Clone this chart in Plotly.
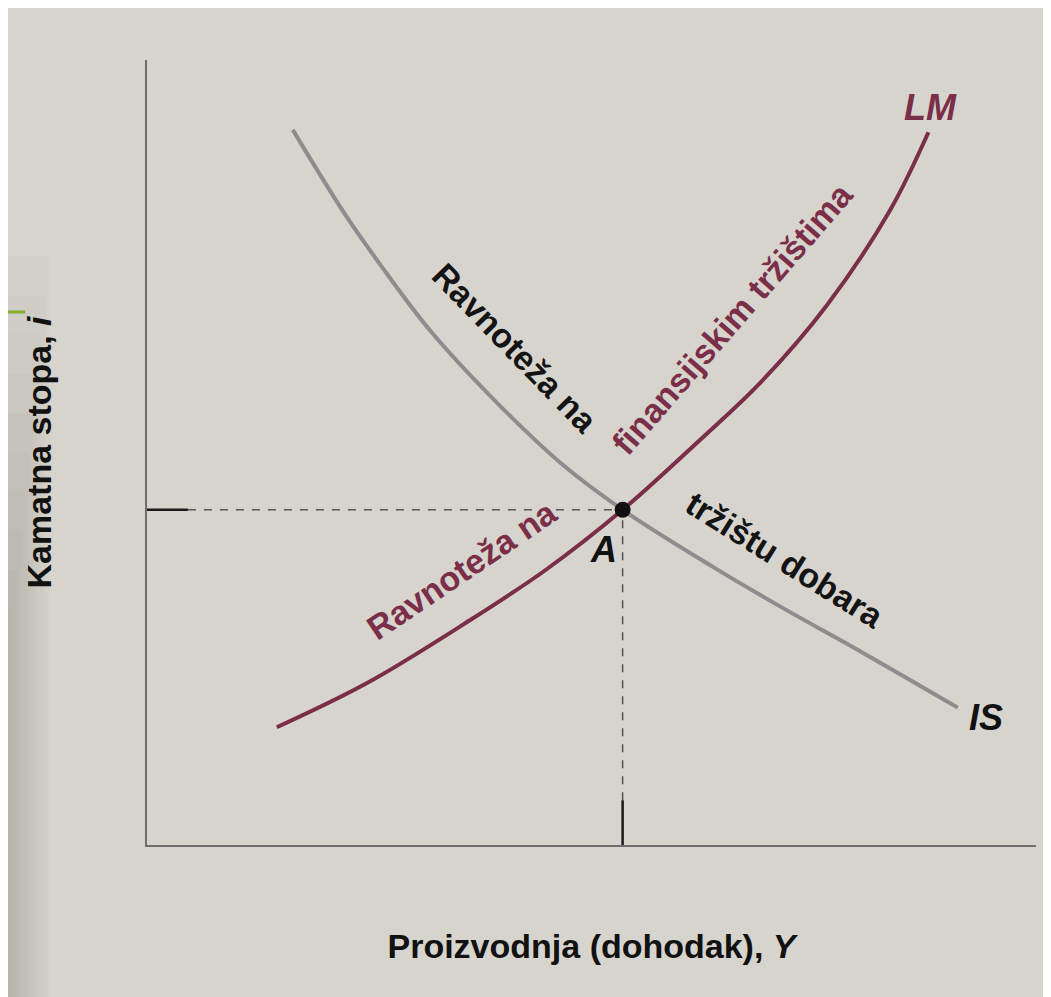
import plotly.graph_objects as go

# IS curve (goods market equilibrium)
is_x = [16.4, 22.3, 26.2, 31.8, 39.4, 46.8, 53.5, 63.7, 71.2, 80.5, 91.2]
is_y = [91.1, 80.3, 74.0, 65.6, 56.3, 48.4, 42.7, 35.4, 30.4, 24.5, 17.5]

# LM curve (financial markets equilibrium)
lm_x = [14.6, 24.7, 36.0, 44.8, 53.5, 62.2, 69.0, 76.5, 83.6, 87.9]
lm_y = [15.0, 20.6, 28.4, 35.0, 42.7, 51.6, 58.9, 68.8, 80.9, 90.8]

# equilibrium point A
eq_x = 53.5
eq_y = 42.7

# solid tick stubs on the axes
tick_i_len = 4.6
tick_y_len = 5.7

bg = "#d7d4ce"
maroon = "#7a2e48"
gray_curve = "#8d8d8d"
font_family = "Liberation Sans, Arial, Helvetica, sans-serif"

fig = go.Figure()

# dashed guide lines from A to the axes
fig.add_trace(go.Scatter(
    x=[tick_i_len, eq_x], y=[eq_y, eq_y], mode="lines",
    line=dict(color="#555555", width=1.5, dash="8px,8px"),
    showlegend=False, hoverinfo="skip",
))
fig.add_trace(go.Scatter(
    x=[eq_x, eq_x], y=[tick_y_len, eq_y], mode="lines",
    line=dict(color="#555555", width=1.5, dash="8px,8px"),
    showlegend=False, hoverinfo="skip",
))
fig.add_trace(go.Scatter(
    x=[0, tick_i_len], y=[eq_y, eq_y], mode="lines",
    line=dict(color="#1a1a1a", width=2.5),
    showlegend=False, hoverinfo="skip",
))
fig.add_trace(go.Scatter(
    x=[eq_x, eq_x], y=[0, tick_y_len], mode="lines",
    line=dict(color="#1a1a1a", width=2.5),
    showlegend=False, hoverinfo="skip",
))

fig.add_trace(go.Scatter(
    x=is_x, y=is_y, mode="lines", line_shape="spline",
    line=dict(color=gray_curve, width=4), name="IS", showlegend=False,
))
fig.add_trace(go.Scatter(
    x=lm_x, y=lm_y, mode="lines", line_shape="spline",
    line=dict(color=maroon, width=4), name="LM", showlegend=False,
))
fig.add_trace(go.Scatter(
    x=[eq_x], y=[eq_y], mode="markers",
    marker=dict(color="#111111", size=16), showlegend=False,
))

txt = 34
annotations = [
    dict(x=41.4, y=63.3, text="<b>Ravnoteža na</b>", textangle=46,
         font=dict(color="#141414", size=txt)),
    dict(x=65.9, y=67.1, text="<b>finansijskim tržištima</b>", textangle=-49,
         font=dict(color=maroon, size=txt)),
    dict(x=35.4, y=35.0, text="<b>Ravnoteža na</b>", textangle=-34,
         font=dict(color=maroon, size=txt)),
    dict(x=71.8, y=36.3, text="<b>tržištu dobara</b>", textangle=32,
         font=dict(color="#141414", size=txt)),
    dict(x=51.3, y=37.6, text="<b><i>A</i></b>",
         font=dict(color="#111111", size=36)),
    dict(x=88.1, y=94.0, text="<b><i>LM</i></b>",
         font=dict(color=maroon, size=36)),
    dict(x=94.4, y=16.3, text="<b><i>IS</i></b>",
         font=dict(color="#111111", size=36)),
    dict(x=-3.8, y=eq_y, text="<i>i</i>",
         font=dict(color="#111111", size=34)),
    dict(x=eq_x, y=-5.5, text="<i>Y</i>",
         font=dict(color="#111111", size=34)),
]
for a in annotations:
    a.update(xref="x", yref="y", showarrow=False, xanchor="center", yanchor="middle")

# soft darker shading at the left edge of the photographed page
shapes = []
for k in range(10):
    shapes.append(dict(
        type="rect", xref="paper", yref="paper",
        x0=-0.16, x1=-0.155 + 0.0045 * (10 - k),
        y0=-0.2, y1=0.25 + 0.05 * (10 - k),
        fillcolor="#8f8170", opacity=0.045, line_width=0, layer="below",
    ))
# green slide mark
shapes.append(dict(type="line", xref="paper", yref="paper", x0=-0.16, x1=-0.137,
                   y0=0.679, y1=0.679, line=dict(color="#86aa2c", width=3)))

# the page body adds an 8px white margin, so the figure is 8px smaller
fig.update_layout(
    width=1043, height=989,
    margin=dict(l=139, r=15, t=52, b=152),
    paper_bgcolor=bg, plot_bgcolor=bg,
    font=dict(family=font_family, color="#111111"),
    annotations=annotations, shapes=shapes,
    showlegend=False,
)
fig.update_xaxes(
    range=[0, 100], showgrid=False, zeroline=False, showticklabels=False, ticks="",
    showline=True, linecolor="#6e6e6e", linewidth=2,
    title=dict(text="<b>Proizvodnja (dohodak), <i>Y</i></b>", font=dict(size=34), standoff=88),
    automargin=False,
)
fig.update_yaxes(
    range=[0, 100], showgrid=False, zeroline=False, showticklabels=False, ticks="",
    showline=True, linecolor="#6e6e6e", linewidth=2,
    title=dict(text="<b>Kamatna stopa, <i>i</i></b>", font=dict(size=34), standoff=83),
    automargin=False,
)

fig.write_html("out.html")
